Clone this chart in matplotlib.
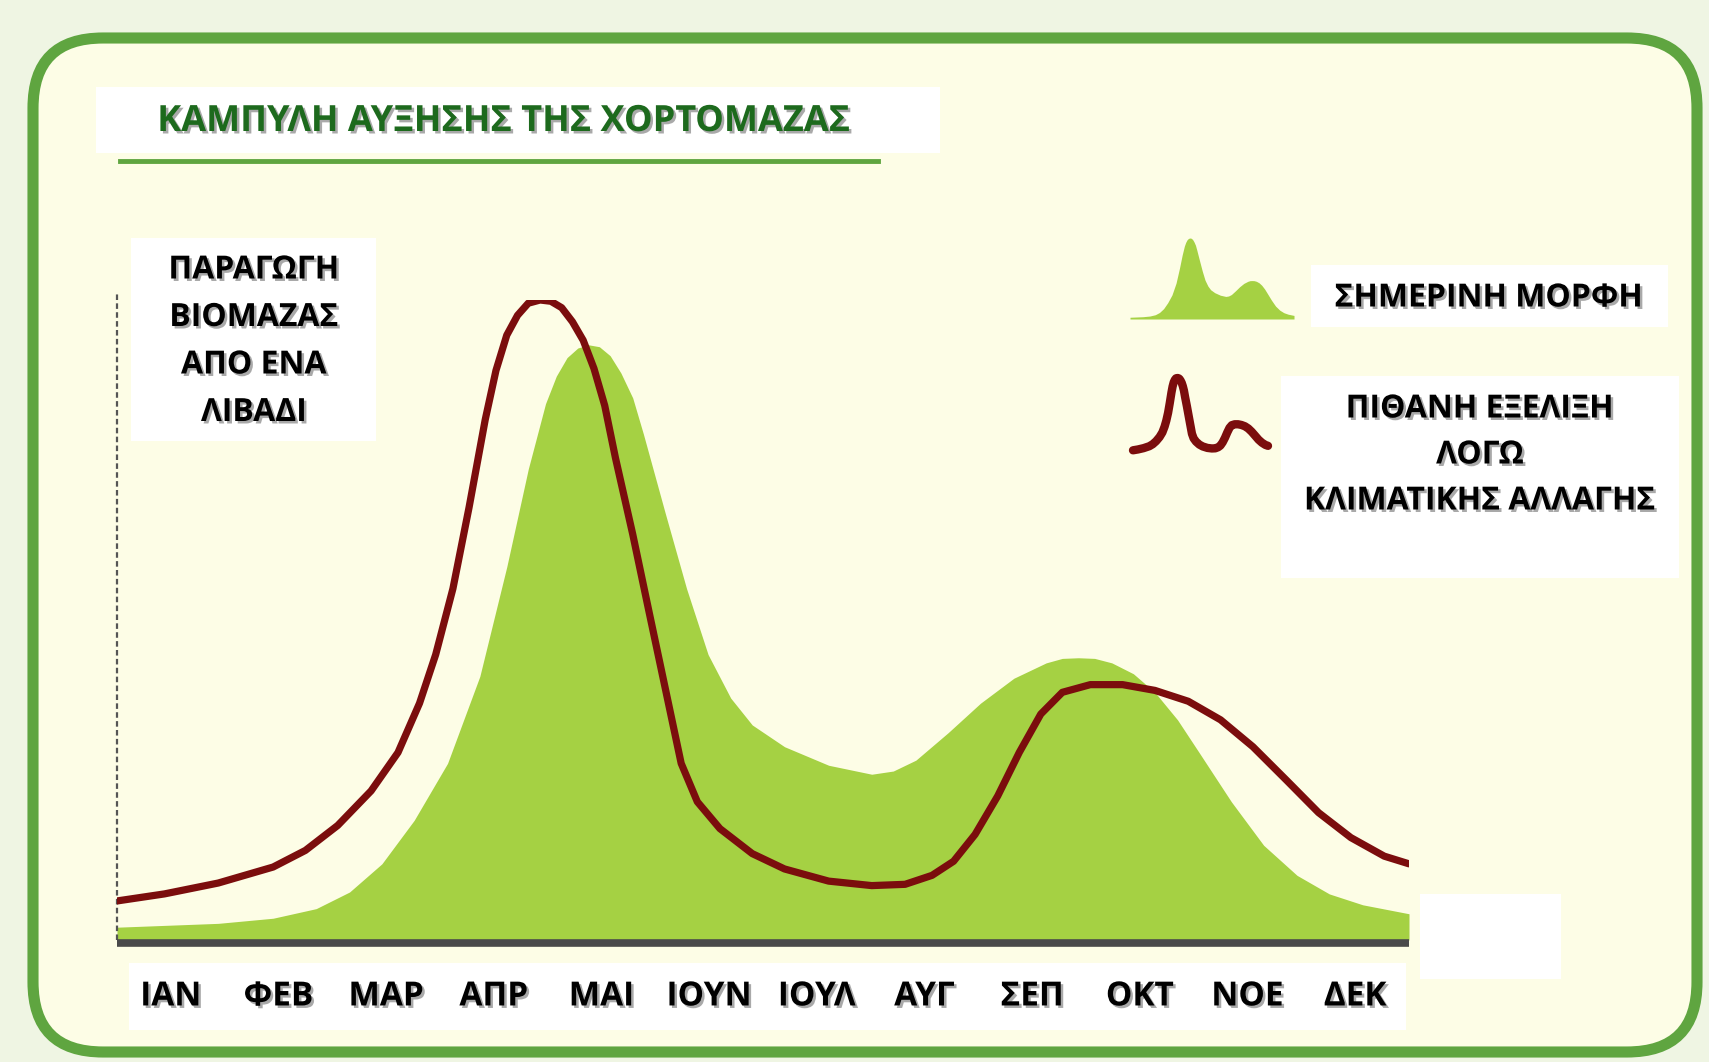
import matplotlib.pyplot as plt
import matplotlib.patheffects as pe
from matplotlib.patches import FancyBboxPatch, Rectangle
from matplotlib.lines import Line2D
from matplotlib.transforms import IdentityTransform, blended_transform_factory

# today's growth curve (month position, relative biomass)
green_m = [0.00, 0.94, 1.45, 1.85, 2.16, 2.46, 2.76, 3.07, 3.37, 3.62, 3.82, 3.98,
           4.08, 4.18, 4.28, 4.38, 4.48, 4.58, 4.68, 4.79, 4.89, 5.09, 5.29, 5.49,
           5.70, 5.90, 6.20, 6.61, 7.01, 7.21, 7.42, 7.72, 8.02, 8.33, 8.63, 8.78,
           8.93, 9.08, 9.24, 9.44, 9.64, 9.85, 10.05, 10.35, 10.65, 10.96, 11.26,
           11.57, 12.00]
green_v = [2.0, 2.6, 3.4, 4.9, 7.5, 11.9, 18.7, 27.6, 41.2, 58.3, 73.6, 83.8,
           88.1, 91.0, 92.5, 93.0, 92.7, 91.3, 88.6, 84.7, 79.0, 66.8, 54.9, 44.6,
           37.8, 33.6, 30.2, 27.3, 25.9, 26.4, 28.1, 32.4, 37.0, 40.9, 43.3, 44.0,
           44.1, 44.0, 43.3, 41.6, 38.7, 34.4, 29.3, 21.6, 14.8, 10.1, 7.2,
           5.5, 4.1]

# possible shape under climate change
red_m = [0.00, 0.44, 0.94, 1.45, 1.75, 2.05, 2.36, 2.61, 2.81, 2.96, 3.12, 3.27,
         3.42, 3.52, 3.62, 3.72, 3.82, 3.93, 4.03, 4.13, 4.23, 4.33, 4.43, 4.53,
         4.63, 4.79, 4.94, 5.09, 5.24, 5.39, 5.60, 5.90, 6.20, 6.61, 7.01, 7.32,
         7.57, 7.77, 7.97, 8.18, 8.38, 8.58, 8.78, 9.04, 9.34, 9.64, 9.95, 10.25,
         10.55, 10.86, 11.16, 11.46, 11.77, 12.00]
red_v = [6.1, 7.2, 8.9, 11.4, 14.0, 17.9, 23.3, 29.3, 37.0, 44.6, 54.9, 67.6,
         81.3, 89.0, 94.5, 97.6, 99.5, 100.0, 99.8, 98.8, 96.6, 93.7, 89.3, 83.5,
         75.3, 63.4, 51.4, 39.5, 27.6, 21.6, 17.4, 13.5, 11.1, 9.2, 8.5, 8.7,
         10.1, 12.3, 16.5, 22.5, 29.3, 35.3, 38.7, 39.9, 39.9, 39.0, 37.3, 34.4,
         30.2, 25.0, 19.9, 16.0, 13.1, 11.9]

months = ["ΙΑΝ", "ΦΕΒ", "ΜΑΡ", "ΑΠΡ", "ΜΑΙ", "ΙΟΥΝ", "ΙΟΥΛ", "ΑΥΓ", "ΣΕΠ", "ΟΚΤ", "ΝΟΕ", "ΔΕΚ"]

title = "ΚΑΜΠΥΛΗ ΑΥΞΗΣΗΣ ΤΗΣ ΧΟΡΤΟΜΑΖΑΣ"
ylabel_lines = ["ΠΑΡΑΓΩΓΗ", "ΒΙΟΜΑΖΑΣ", "ΑΠΟ ΕΝΑ", "ΛΙΒΑΔΙ"]
legend_now = "ΣΗΜΕΡΙΝΗ ΜΟΡΦΗ"
legend_future = ["ΠΙΘΑΝΗ ΕΞΕΛΙΞΗ", "ΛΟΓΩ", "ΚΛΙΜΑΤΙΚΗΣ ΑΛΛΑΓΗΣ"]

GREEN = "#a5d143"
RED = "#7b0d0d"
FRAME = "#5fa540"

plt.rcParams["font.family"] = ["Open Sans", "DejaVu Sans"]

W, H = 1709, 1062
fig = plt.figure(figsize=(W / 100, H / 100), dpi=100, facecolor="#eff5e3")


def box(x0, y0, x1, y1):
    # pixel box measured from the top-left -> figure fraction rect
    return [x0 / W, 1 - y1 / H, (x1 - x0) / W, (y1 - y0) / H]


def white_box(x0, y0, x1, y1):
    r = Rectangle((x0 / W, 1 - y1 / H), (x1 - x0) / W, (y1 - y0) / H,
                  transform=fig.transFigure, fc="white", ec="none", zorder=-1)
    fig.add_artist(r)


shadow = [pe.SimplePatchShadow(offset=(1.8, -1.8), shadow_rgbFace="#555555", alpha=0.5), pe.Normal()]

# rounded panel
frame = FancyBboxPatch((33, H - 1052), 1664, 1014, boxstyle="round,pad=0,rounding_size=70",
                       transform=IdentityTransform(), fc="#fdfde6", ec=FRAME, lw=8, zorder=-2)
fig.add_artist(frame)

# title
white_box(96, 87, 940, 153)
fig.text(504 / W, 1 - 122 / H, title, ha="center", va="center", fontsize=26,
         fontweight="bold", color="#1d6a1d", path_effects=shadow)
fig.add_artist(Line2D([120 / W, 878 / W], [1 - 161 / H, 1 - 161 / H], lw=3.5, color=FRAME))

# y label
white_box(131, 238, 376, 441)
for i, line in enumerate(ylabel_lines):
    fig.text(254 / W, 1 - (270 + 47.5 * i) / H, line, ha="center", va="center",
             fontsize=23, fontweight="bold", color="black", path_effects=shadow)

# month strip and the spare box on the right
white_box(129, 963, 1406, 1030)
white_box(1420, 894, 1561, 979)

# main chart
ax = fig.add_axes(box(117, 300, 1409, 940))
ax.set_xlim(0, 12)
ax.set_ylim(0, 100)
ax.axis("off")
ax.fill_between(green_m, green_v, 0, color=GREEN, lw=0, zorder=1)
ax.plot(red_m, red_v, color=RED, lw=5.2, solid_capstyle="round", solid_joinstyle="round", zorder=3)
ax.plot([0, 12], [-0.4, -0.4], color="#4a4a4a", lw=5.5, solid_capstyle="butt", clip_on=False, zorder=4)
ax.plot([0, 0], [0, 101], color="#555555", lw=1.6, ls=(0, (2.5, 1.5)), clip_on=False, zorder=2)

trans = blended_transform_factory(ax.transData, ax.transAxes)
for i, m in enumerate(months):
    ax.text(i + 0.5, -0.089, m, transform=trans, ha="center", va="center",
            fontsize=24, fontweight="bold", color="black", path_effects=shadow)

# legend icons
ax_g = fig.add_axes(box(1130, 238, 1294, 319))
ax_g.fill_between(green_m, green_v, 0, color=GREEN, lw=0)
ax_g.set_xlim(0, 12)
ax_g.set_ylim(0, max(green_v))
ax_g.axis("off")

ax_r = fig.add_axes(box(1133, 378, 1268, 455))
ax_r.plot(red_m, red_v, color=RED, lw=6, solid_capstyle="round", solid_joinstyle="round", clip_on=False)
ax_r.set_xlim(0, 12)
ax_r.set_ylim(0, 100)
ax_r.axis("off")

# legend texts
white_box(1311, 265, 1668, 327)
fig.text(1489 / W, 1 - 298 / H, legend_now, ha="center", va="center", fontsize=23,
         fontweight="bold", color="black", path_effects=shadow)
white_box(1281, 376, 1679, 578)
for i, line in enumerate(legend_future):
    fig.text(1480 / W, 1 - (409 + 46 * i) / H, line, ha="center", va="center",
             fontsize=23, fontweight="bold", color="black", path_effects=shadow)

fig.savefig("out.png", dpi=100, facecolor=fig.get_facecolor())
